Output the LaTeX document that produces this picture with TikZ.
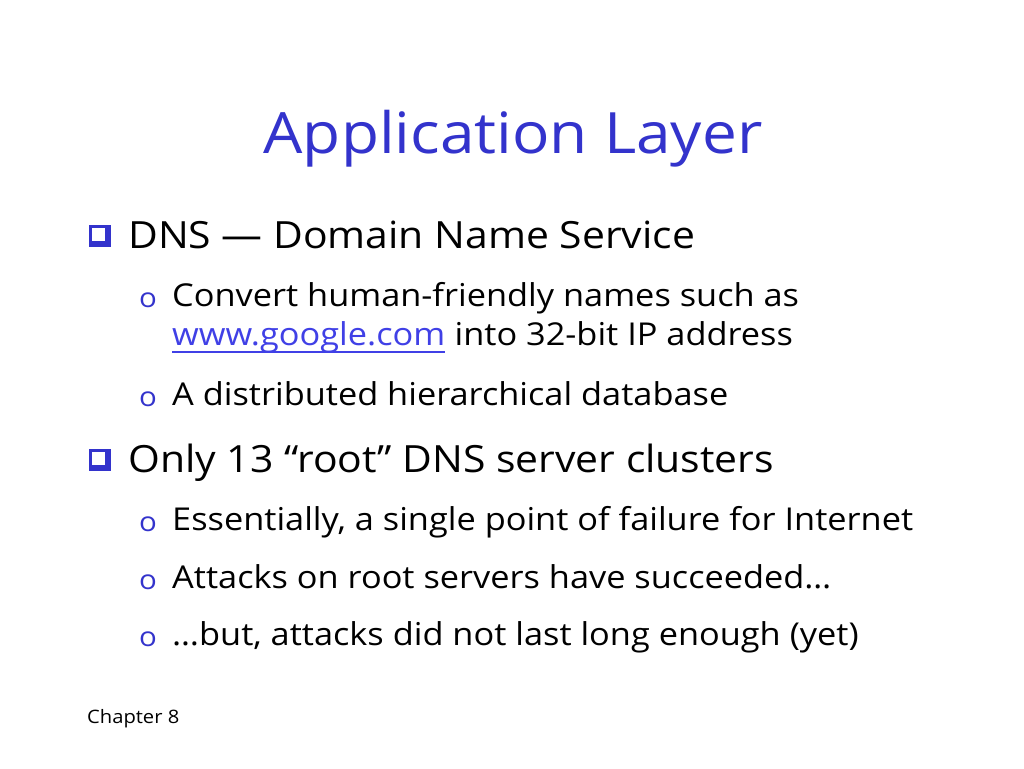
\documentclass[tikz,border=0pt]{standalone}
\usepackage{fontspec}
\setmainfont[FakeStretch=1.09]{Open Sans}
\usepackage{tikz}
\usetikzlibrary{positioning}
\definecolor{titleCol}{RGB}{51, 51, 204}
\definecolor{linkCol}{RGB}{64, 64, 230}
\tikzset{myTitle/.style={anchor=base, inner sep=0pt, text=titleCol, font=\fontsize{57}{60}\selectfont}}
\tikzset{myLevelOne/.style={anchor=base west, inner sep=0pt, font=\fontsize{37.5}{44}\selectfont}}
\tikzset{myLevelTwo/.style={anchor=base west, inner sep=0pt, font=\fontsize{31.5}{38}\selectfont}}
\tikzset{mySubBullet/.style={anchor=base west, inner sep=0pt, text=titleCol, font=\fontsize{27}{30}\selectfont}}
\tikzset{myFooter/.style={anchor=base west, inner sep=0pt, font=\fontsize{18.5}{20}\selectfont}}
\newcommand{\boxBullet}[2]{\fill[titleCol] (#1,#2) rectangle ++(22,22); \fill[white] ({#1+3},{#2+3}) rectangle ++(13,13);}

\begin{document}
\begin{tikzpicture}[x=1pt,y=-1pt]
	\fill[white] (0,0) rectangle (1024,768);
	\useasboundingbox (0,0) rectangle (1024,768);
	\node[myTitle] (title) at (513,153) {Application Layer};

	% first bullet
	\boxBullet{89}{225}
	\node[myLevelOne] (dns) at (128,248) {DNS \textemdash{} Domain Name Service};
	\node[mySubBullet] (o1) at (139,307) {o};
	\node[myLevelTwo] (convert) at (172,306) {Convert human-friendly names such as};
	\node[myLevelTwo] (link) at (172,345) {\textcolor{linkCol}{www.google.com}};
	\node[myLevelTwo, anchor=base west] (into) at (link.base east) {\ into 32-bit IP address};
	\draw[linkCol, line width=1.5pt] ([yshift=-7pt]link.base west) -- ([yshift=-7pt]link.base east);
	\node[mySubBullet] (o2) at (139,406) {o};
	\node[myLevelTwo] (dist) at (172,405) {A distributed hierarchical database};

	% second bullet
	\boxBullet{89}{449}
	\node[myLevelOne] (root) at (128,472) {Only 13 “root” DNS server clusters};
	\node[mySubBullet] (o3) at (139,531) {o};
	\node[myLevelTwo] (single) at (172,530) {Essentially, a single point of failure for Internet};
	\node[mySubBullet] (o4) at (139,589) {o};
	\node[myLevelTwo] (attacks) at (172,588) {Attacks on root servers have succeeded…};
	\node[mySubBullet] (o5) at (139,646) {o};
	\node[myLevelTwo] (last) at (172,645) {…but, attacks did not last long enough (yet)};

	\node[myFooter] (footer) at (87,723) {Chapter 8};
\end{tikzpicture}
\end{document}
